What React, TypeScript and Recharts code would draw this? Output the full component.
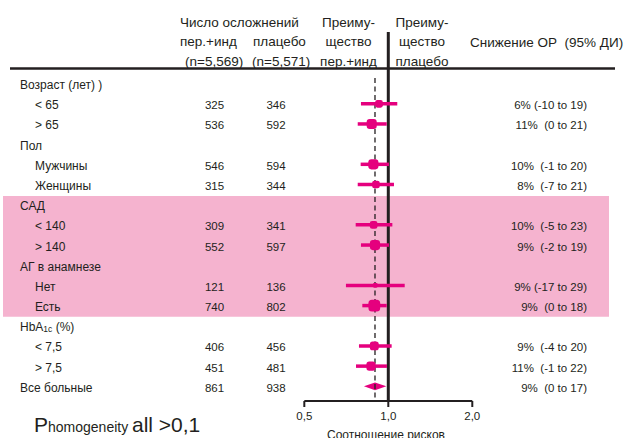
import React from 'react';
import {
  ScatterChart,
  Scatter,
  XAxis,
  YAxis,
  ReferenceLine,
  ReferenceArea,
  Customized,
} from 'recharts';

// ---------- data ----------
const rowLabels = [
  'Возраст (лет) )',
  '< 65',
  '> 65',
  'Пол',
  'Мужчины',
  'Женщины',
  'САД',
  '< 140',
  '> 140',
  'АГ в анамнезе',
  'Нет',
  'Есть',
  'HbA1c (%)',
  '< 7,5',
  '> 7,5',
  'Все больные',
];
const rowIndent = [0, 1, 1, 0, 1, 1, 0, 1, 1, 0, 1, 1, 0, 1, 1, 0];
const eventsTreatment = [null, 325, 536, null, 546, 315, null, 309, 552, null, 121, 740, null, 406, 451, 861];
const eventsPlacebo = [null, 346, 592, null, 594, 344, null, 341, 597, null, 136, 802, null, 456, 481, 938];
const hazardRatio = [null, 0.926, 0.872, null, 0.884, 0.903, null, 0.886, 0.896, null, 0.898, 0.891, null, 0.891, 0.867, 0.896];
const ciLow = [null, 0.798, 0.777, null, 0.796, 0.777, null, 0.764, 0.798, null, 0.705, 0.807, null, 0.785, 0.766, 0.818];
const ciHigh = [null, 1.077, 0.987, null, 1.006, 1.048, null, 1.034, 1.006, null, 1.145, 0.987, null, 1.028, 0.989, 0.984];
const rrrText = [
  '',
  '6% (-10 to 19)',
  '11%  (0 to 21)',
  '',
  '10%  (-1 to 20)',
  '8%  (-7 to 21)',
  '',
  '10%  (-5 to 23)',
  '9%  (-2 to 19)',
  '',
  '9% (-17 to 29)',
  '9%  (0 to 18)',
  '',
  '9%  (-4 to 20)',
  '11%  (-1 to 22)',
  '9%  (0 to 17)',
];
const overallRow = 15;
const overallHR = 0.896;
const axisTicks = [0.5, 1, 2];
const highlightRows = [6, 11];

const headerEvents = ['Число осложнений'];
const headerArms = ['пер.+инд', 'плацебо'];
const headerN = ['(n=5,569)', '(n=5,571)'];
const headerFavTreat = ['Преиму-', 'щество', 'пер.+инд'];
const headerFavPlacebo = ['Преиму-', 'щество', 'плацебо'];
const headerRRR = 'Снижение ОР  (95% ДИ)';
const xAxisTitle = 'Соотношение рисков';

// ---------- derived table ----------
const rows = rowLabels.map((label, i) => ({
  row: i,
  label,
  indent: rowIndent[i],
  nT: eventsTreatment[i],
  nP: eventsPlacebo[i],
  hr: hazardRatio[i],
  lo: ciLow[i],
  hi: ciHigh[i],
  rrr: rrrText[i],
  total: (eventsTreatment[i] ?? 0) + (eventsPlacebo[i] ?? 0),
}));
const markerRows = rows.filter((r) => r.hr != null && r.row !== overallRow);
const overall = rows[overallRow];

// ---------- style ----------
const FONT = "'Liberation Sans', Arial, Helvetica, sans-serif";
const INK = '#231f20';
const MAGENTA = '#e5007e';
const PINK = '#f5b3cf';
const Y_DOMAIN: [number, number] = [-2.557, 15.728];
const X_DOMAIN: [number, number] = [0.0416, 6.18];

function RowTick(props: any) {
  const { y, payload } = props;
  const r = rows[payload.value];
  if (!r) return null;
  const lx = r.indent ? 35 : 20;
  const by = y + 5.5;
  let labelNode: React.ReactNode = r.label;
  if (r.label.startsWith('HbA1c')) {
    labelNode = (
      <>
        HbA
        <tspan fontSize={8.5} dy={1}>1c</tspan>
        <tspan dy={-1}> (%)</tspan>
      </>
    );
  }
  return (
    <g fontFamily={FONT} fill={INK}>
      <text x={lx} y={by} fontSize={12} fill={INK}>
        {labelNode}
      </text>
      {r.nT != null && (
        <text x={214.5} y={by} fontSize={11.5} textAnchor="middle" fill={INK}>
          {r.nT}
        </text>
      )}
      {r.nP != null && (
        <text x={276} y={by} fontSize={11.5} textAnchor="middle" fill={INK}>
          {r.nP}
        </text>
      )}
      {r.rrr && (
        <text x={587} y={by} fontSize={11.5} textAnchor="end" fill={INK} style={{ whiteSpace: 'pre' }}>
          {r.rrr}
        </text>
      )}
    </g>
  );
}

function MarkerShape(props: any) {
  const { cx, cy, payload } = props;
  const s = 0.3 * Math.sqrt(payload.total);
  return <rect x={cx - s / 2} y={cy - s / 2} width={s} height={s} rx={s * 0.3} ry={s * 0.3} fill={MAGENTA} />;
}

function LeftHalfDiamond(props: any) {
  const { x, y, width, height } = props;
  return <polygon points={`${x},${y + height / 2} ${x + width},${y} ${x + width},${y + height}`} fill={MAGENTA} />;
}
function RightHalfDiamond(props: any) {
  const { x, y, width, height } = props;
  return <polygon points={`${x},${y} ${x + width},${y + height / 2} ${x},${y + height}`} fill={MAGENTA} />;
}

function Header() {
  const fs = 13.5;
  return (
    <g fontFamily={FONT} fill={INK}>
      <text x={180} y={26.5} fontSize={fs}>{headerEvents[0]}</text>
      <text x={180} y={46} fontSize={fs}>{headerArms[0]}</text>
      <text x={253} y={46} fontSize={fs}>{headerArms[1]}</text>
      <text x={185} y={65.5} fontSize={fs}>{headerN[0]}</text>
      <text x={252} y={65.5} fontSize={fs}>{headerN[1]}</text>
      {headerFavTreat.map((t, i) => (
        <text key={'a' + i} x={348.5} y={26.5 + i * 19.5} fontSize={fs} textAnchor="middle">{t}</text>
      ))}
      {headerFavPlacebo.map((t, i) => (
        <text key={'b' + i} x={422} y={26.5 + i * 19.5} fontSize={fs} textAnchor="middle">{t}</text>
      ))}
      <text x={470} y={47} fontSize={fs} style={{ whiteSpace: 'pre' }}>{headerRRR}</text>
      <line x1={10} x2={615} y1={68.5} y2={68.5} stroke={INK} strokeWidth={2.5} />
      <text x={386} y={439} fontSize={12} textAnchor="middle">{xAxisTitle}</text>
      <text x={34} y={432}>
        <tspan fontSize={21}>P</tspan>
        <tspan fontSize={14}>homogeneity</tspan>
        <tspan x={132} fontSize={21}>all &gt;0,1</tspan>
      </text>
    </g>
  );
}

export default function App() {
  return (
    <div style={{ position: 'absolute', left: 0, top: 0, width: 631, height: 438, background: '#fff' }}>
      <ScatterChart width={631} height={438} margin={{ top: 32, right: 22, bottom: 0, left: 1 }}>
        <XAxis
          type="number"
          dataKey="hr"
          scale="log"
          domain={X_DOMAIN}
          allowDataOverflow
          ticks={axisTicks}
          interval={0}
          tickFormatter={(v: number) => v.toFixed(1).replace('.', ',')}
          axisLine={false}
          tickLine={{ stroke: INK, strokeWidth: 2 }}
          tickSize={6}
          tickMargin={5}
          height={37}
          tick={{ fontSize: 11.5, fill: INK, fontFamily: FONT }}
        />
        <YAxis
          type="number"
          dataKey="row"
          domain={Y_DOMAIN}
          reversed
          allowDataOverflow
          ticks={rows.map((r) => r.row)}
          interval={0}
          width={2}
          axisLine={false}
          tickLine={false}
          tick={(p: any) => <RowTick {...p} />}
        />
        <ReferenceArea
          y1={highlightRows[0] - 0.43}
          y2={highlightRows[1] + 0.55}
          fill={PINK}
          fillOpacity={1}
          stroke="none"
          ifOverflow="visible"
        />
        <ReferenceLine x={1} stroke={INK} strokeWidth={3} ifOverflow="visible" />
        <ReferenceLine
          segment={[
            { x: overallHR, y: -0.28 },
            { x: overallHR, y: 15.58 },
          ]}
          stroke={INK}
          strokeWidth={1.3}
          strokeDasharray="5 3.5"
          ifOverflow="visible"
        />
        <ReferenceLine
          segment={[
            { x: axisTicks[0], y: Y_DOMAIN[1] },
            { x: axisTicks[2], y: Y_DOMAIN[1] },
          ]}
          stroke={INK}
          strokeWidth={2.2}
          ifOverflow="visible"
        />
        {markerRows.map((r) => (
          <ReferenceLine
            key={'ci' + r.row}
            segment={[
              { x: r.lo as number, y: r.row },
              { x: r.hi as number, y: r.row },
            ]}
            stroke={MAGENTA}
            strokeWidth={3.5}
            ifOverflow="visible"
          />
        ))}
        <Scatter data={markerRows} dataKey="hr" shape={<MarkerShape />} isAnimationActive={false} />
        <ReferenceArea
          x1={overall.lo as number}
          x2={overall.hr as number}
          y1={overallRow - 0.19}
          y2={overallRow + 0.19}
          shape={<LeftHalfDiamond />}
          ifOverflow="visible"
        />
        <ReferenceArea
          x1={overall.hr as number}
          x2={overall.hi as number}
          y1={overallRow - 0.19}
          y2={overallRow + 0.19}
          shape={<RightHalfDiamond />}
          ifOverflow="visible"
        />
        <Customized component={<Header />} />
      </ScatterChart>
    </div>
  );
}
